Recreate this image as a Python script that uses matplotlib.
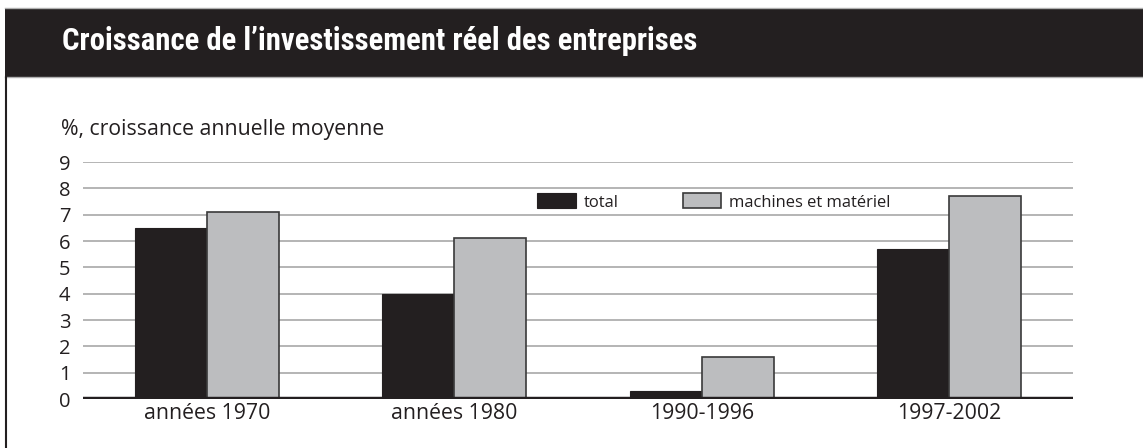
import matplotlib
matplotlib.use("Agg")
import matplotlib.pyplot as plt
from matplotlib.patches import Rectangle
from matplotlib.lines import Line2D
import numpy as np

categories = ["années 1970", "années 1980", "1990-1996", "1997-2002"]
total = [6.5, 4.0, 0.3, 5.7]
machines = [7.1, 6.1, 1.6, 7.7]
series_labels = ["total", "machines et matériel"]
yticks = list(range(0, 10))
title = "Croissance de l\u2019investissement réel des entreprises"
ylabel = "%, croissance annuelle moyenne"

W, H = 1143, 448
fig = plt.figure(figsize=(W / 100, H / 100), dpi=100)
fig.patch.set_facecolor("white")
renderer = fig.canvas.get_renderer()

body_family = ["Open Sans", "DejaVu Sans"]
title_family = ["Roboto Condensed", "Liberation Sans Narrow", "Fira Sans Condensed",
                "Archivo Narrow", "DejaVu Sans"]


def fit_width(txt, target_px):
    bb = txt.get_window_extent(renderer)
    txt.set_fontsize(txt.get_fontsize() * target_px / bb.width)


# title band
fig.patches.append(Rectangle((5 / W, 1 - 77 / H), 1 - 5 / W, 69 / H,
                             transform=fig.transFigure, facecolor="#231f20",
                             edgecolor="none", zorder=0))
fig.lines.append(Line2D([5 / W, 1], [1 - 8 / H] * 2, transform=fig.transFigure,
                        color="#b0b0b0", lw=1))
fig.lines.append(Line2D([5 / W, 1], [1 - 77.5 / H] * 2, transform=fig.transFigure,
                        color="#b0b0b0", lw=1))
fig.lines.append(Line2D([6 / W, 6 / W], [0, 1 - 77 / H], transform=fig.transFigure,
                        color="#231f20", lw=1.5))
t_title = fig.text(62 / W, 1 - 41 / H, title, color="white", fontsize=20,
                   family=title_family, weight="semibold", va="center", ha="left")
fit_width(t_title, 633)

t_ylab = fig.text(61 / W, 1 - 130 / H, ylabel, color="#231f20", fontsize=12,
                  va="center", ha="left", family=body_family)
fit_width(t_ylab, 321)
body_size = t_ylab.get_fontsize()

ax = fig.add_axes([83 / W, 1 - 399 / H, (1073 - 83) / W, (399 - 162) / H])
x = np.arange(len(categories))
bw = 0.29
ax.bar(x - bw / 2, total, bw, color="#231f20", edgecolor="#231f20", lw=0.8,
       label=series_labels[0], zorder=3)
ax.bar(x + bw / 2, machines, bw, color="#bcbdbf", edgecolor="#3a3a3a", lw=1.2,
       label=series_labels[1], zorder=3)
ax.set_xlim(-0.5, len(categories) - 0.5)
ax.set_ylim(0, 9)
ax.set_yticks(yticks)
ax.set_yticklabels([str(t) for t in yticks], fontsize=body_size * 0.95,
                   color="#231f20", family=body_family)
ax.set_xticks(x)
ax.set_xticklabels(categories, fontsize=body_size, color="#231f20", family=body_family)
ax.tick_params(axis="both", length=0)
ax.tick_params(axis="y", pad=9)
ax.tick_params(axis="x", pad=3)
for t in yticks[1:]:
    ax.axhline(t, color="#a0a0a0", lw=1.1, zorder=1)
ax.axhline(0, color="#231f20", lw=3.2, zorder=4)
for s in ax.spines.values():
    s.set_visible(False)

leg = ax.legend(loc="center left", bbox_to_anchor=((537 - 83) / (1073 - 83),
                                                   (399 - 202) / (399 - 162)),
                ncol=2, frameon=False, handlelength=2.35,
                handleheight=1.0, handletextpad=0.48, columnspacing=3.85,
                borderaxespad=0, borderpad=0,
                prop=dict(family=body_family, size=body_size * 0.78))
for t in leg.get_texts():
    t.set_color("#231f20")

fig.savefig("out.png", dpi=100, facecolor="white")
